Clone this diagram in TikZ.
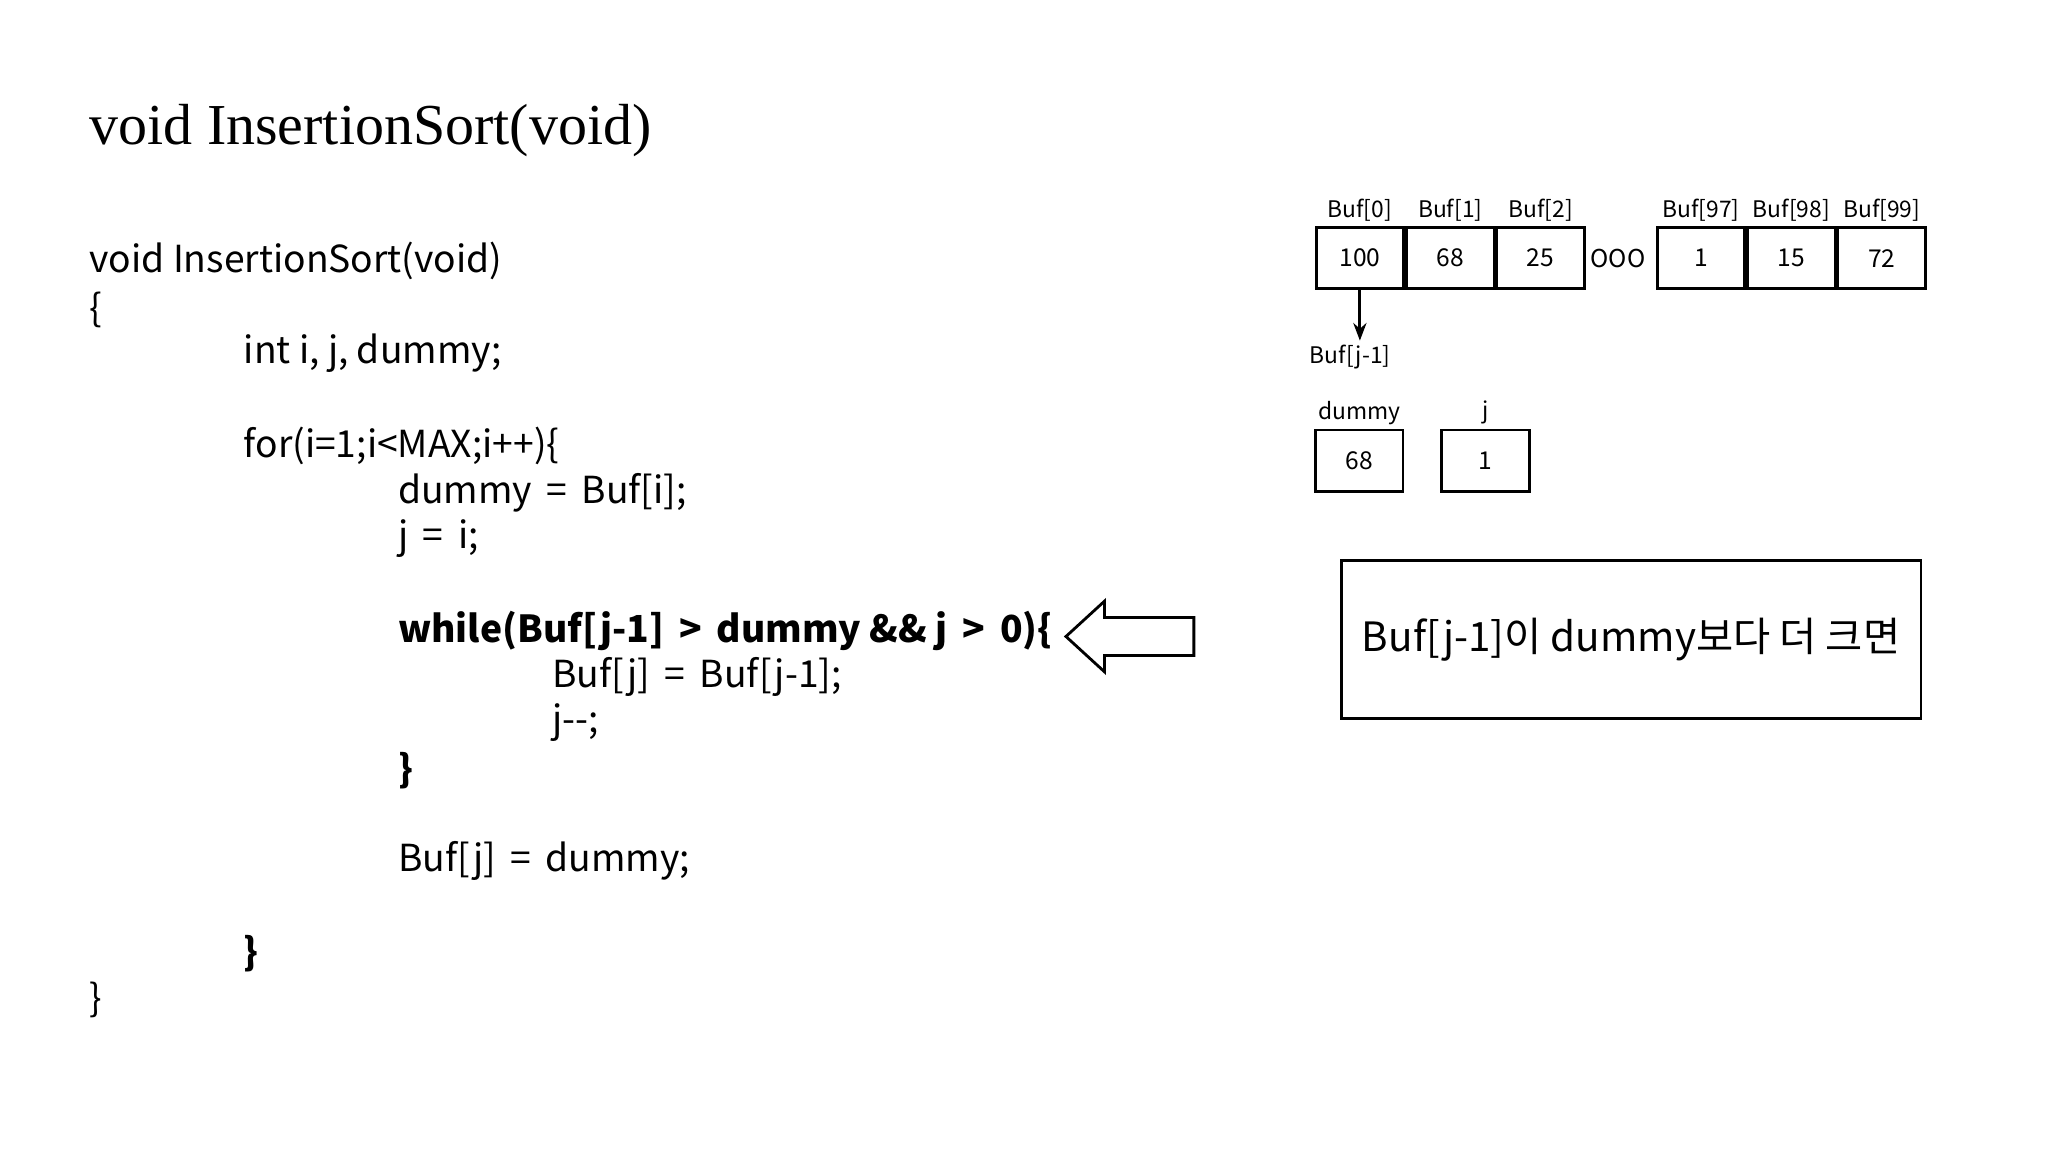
\documentclass[tikz,border=0pt]{standalone}
\usepackage{fontspec}
\setmainfont{Noto Sans CJK KR}
\newfontfamily\titlefont{Liberation Serif}
\usetikzlibrary{positioning,shapes.arrows,arrows.meta}

\begin{document}
\begin{tikzpicture}
[x=0.01307cm, y=-0.01307cm,
code/.style ={anchor=west, inner sep=0pt, font=\fontsize{10.6}{13}\selectfont},
cell/.style ={rectangle, draw=black, thick, minimum width=0.876cm, minimum height=0.614cm,
inner sep=0pt, font=\fontsize{7}{9}\selectfont},
tag/.style ={font=\fontsize{6.5}{8}\selectfont, inner sep=1pt},
dedge/.style={thick, -{Stealth[length=5pt]}}]
\useasboundingbox (0,0) rectangle (1567,881);
\node[anchor=west, inner sep=0pt, font=\titlefont\fontsize{16.5}{20}\selectfont] (title) at (68,100) {void InsertionSort(void)};
\node[code] (c1) at (68,200) {void InsertionSort(void)};
\node[code] (c2) at (68,237) {\{};
\node[code] (c3) at (186,270) {int i, j, dummy;};
\node[code] (c4) at (186,341) {for(i=1;i<MAX;i++)\{};
\node[code] (c5) at (304,377) {dummy \,=\, Buf[i];};
\node[code] (c6) at (304,412) {j \,=\, i;};
\node[code,font=\fontsize{10.6}{13}\selectfont\bfseries] (c7) at (304,483) {while(Buf[j-1] \,>\, dummy \&\& j \,>\, 0)\{};
\node[code] (c8) at (422,518) {Buf[j] \,=\, Buf[j-1];};
\node[code] (c9) at (422,553) {j-{}-;};
\node[code,font=\fontsize{10.6}{13}\selectfont\bfseries] (c10) at (304,590) {\}};
\node[code] (c11) at (304,659) {Buf[j] \,=\, dummy;};
\node[code,font=\fontsize{10.6}{13}\selectfont\bfseries] (c12) at (186,730) {\}};
\node[code] (c13) at (68,765) {\}};
% pointer arrow
\node[single arrow, draw=black, thick, shape border rotate=180, minimum height=1.28cm,
minimum width=0.68cm, single arrow head extend=0.163cm, single arrow tip angle=85,
inner sep=0pt, anchor=tip] (point) at (814,487) {\rule{0pt}{0.353cm}};
% array
\node[cell,label={[tag]above:Buf[0]}] (b0) at (1040.5,197.5) {100};
\node[cell,right=0pt of b0,label={[tag]above:Buf[1]}] (b1) {68};
\node[cell,right=0pt of b1,label={[tag]above:Buf[2]}] (b2) {25};
\node[cell,label={[tag]above:Buf[97]}] (b97) at (1301.5,197.5) {1};
\node[cell,right=0pt of b97,label={[tag]above:Buf[98]}] (b98) {15};
\node[cell,right=0pt of b98,label={[tag]above:Buf[99]}] (b99) {72};
\node[font=\fontsize{7}{9}\selectfont] (dots) at (1238,198) {OOO};
\node[tag] (jm1) at (1033,273) {Buf[j-1]};
\draw[dedge] (b0.south) -- (b0.south |- jm1.north);
\node[cell,label={[tag]above:dummy}] (dummy) at (1040,352.5) {68};
\node[cell,label={[tag]above:j}] (jval) at (1136.5,352.5) {1};
\node[draw=black, thick, minimum width=5.80cm, minimum height=1.58cm,
font=\fontsize{11.5}{14}\selectfont] (note) at (1248,489.5) {Buf[j-1]이 dummy보다 더 크면};
\end{tikzpicture}
\end{document}
